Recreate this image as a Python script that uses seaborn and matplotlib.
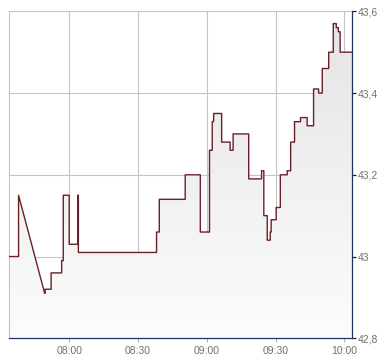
import numpy as np
import pandas as pd
import matplotlib
matplotlib.use("Agg")
import matplotlib.pyplot as plt
import matplotlib.dates as mdates
from matplotlib.ticker import FuncFormatter, FixedLocator
from matplotlib.patches import PathPatch
import seaborn as sns

# ---- data ----
day = "2024-01-02 "
times = ["07:33:36", "07:37:54", "07:49:18", "07:49:30", "07:52:06", "07:56:42",
         "07:57:24", "08:00:00", "08:03:42", "08:04:00", "08:38:06", "08:39:18",
         "08:50:36", "08:57:12", "09:01:12", "09:02:24", "09:03:00", "09:06:30",
         "09:10:12", "09:11:30", "09:18:18", "09:23:54", "09:24:54", "09:26:24",
         "09:27:42", "09:28:06", "09:30:18", "09:32:06", "09:35:06", "09:36:36",
         "09:38:18", "09:40:54", "09:43:48", "09:46:36", "09:48:48", "09:50:24",
         "09:53:12", "09:55:12", "09:56:30", "09:57:24", "09:58:12"]
prices = [43.00, 43.15, 42.91, 42.92, 42.96, 42.99,
          43.15, 43.03, 43.15, 43.01, 43.06, 43.14,
          43.20, 43.06, 43.26, 43.33, 43.35, 43.28,
          43.26, 43.30, 43.19, 43.21, 43.10, 43.04,
          43.06, 43.09, 43.12, 43.20, 43.21, 43.28,
          43.33, 43.34, 43.32, 43.41, 43.40, 43.46,
          43.50, 43.57, 43.56, 43.55, 43.50]
end_time = "10:03:30"
linear_from = ["07:37:54"]          # segment drawn as straight line (gap in data)
x_ticks = ["08:00", "08:30", "09:00", "09:30", "10:00"]
y_ticks = [42.8, 43.0, 43.2, 43.4, 43.6]

# ---- build step path ----
t = pd.to_datetime([day + s for s in times])
t_end = pd.to_datetime(day + end_time)
xs, ys = [], []
for i in range(len(t)):
    xs.append(t[i]); ys.append(prices[i])
    nxt = t[i + 1] if i + 1 < len(t) else t_end
    if times[i] in linear_from:
        continue
    xs.append(nxt); ys.append(prices[i])
df = pd.DataFrame({"time": pd.to_datetime(xs), "price": ys})

sns.set_theme(style="white")
plt.rcParams["font.family"] = ["Liberation Sans", "DejaVu Sans"]

fig = plt.figure(figsize=(3.9, 3.64), dpi=100)
ax = fig.add_axes([8.7 / 390, 1 - 338.3 / 364, (352.3 - 8.7) / 390, (338.3 - 11.3) / 364])
ax.set_facecolor("white")

ymin, ymax = y_ticks[0], y_ticks[-1]
x0, x1 = t[0], t_end

sns.lineplot(data=df, x="time", y="price", sort=False, estimator=None,
             color="#6b1f27", lw=1.0, ax=ax, zorder=4)

# gradient fill under the line
xn = mdates.date2num(df["time"].dt.to_pydatetime())
poly = ax.fill_between(xn, df["price"].values, ymin, color="none", lw=0)
path = poly.get_paths()[0]
patch = PathPatch(path, transform=ax.transData, facecolor="none", edgecolor="none")
ax.add_patch(patch)
grad = np.linspace(0, 1, 256).reshape(-1, 1)
cmap = matplotlib.colors.LinearSegmentedColormap.from_list("g", ["#e4e4e4", "#fcfcfc"])
im = ax.imshow(grad, cmap=cmap, aspect="auto", origin="upper",
               extent=[mdates.date2num(x0), mdates.date2num(x1), ymin, ymax], zorder=1)
im.set_clip_path(patch)

ax.set_xlim(x0, x1)
ax.set_ylim(ymin, ymax)

# axes styling
ax.xaxis.set_major_locator(FixedLocator(mdates.date2num(pd.to_datetime([day + s for s in x_ticks]))))
ax.xaxis.set_major_formatter(mdates.DateFormatter("%H:%M"))
ax.yaxis.set_major_locator(FixedLocator(y_ticks))
ax.yaxis.set_major_formatter(FuncFormatter(lambda v, p: ("%g" % round(v, 1)).replace(".", ",")))
ax.yaxis.tick_right()
ax.set_xlabel("")
ax.set_ylabel("")

ax.grid(True, color="#c4c4c4", lw=0.8, zorder=0)
ax.set_axisbelow(True)

for s in ["top"]:
    ax.spines[s].set_visible(False)
ax.spines["left"].set_color("#c4c4c4")
ax.spines["left"].set_linewidth(0.8)
for s in ["bottom", "right"]:
    ax.spines[s].set_color("#1c3560")
    ax.spines[s].set_linewidth(0.9)

ax.tick_params(axis="y", which="major", right=True, left=False, length=3, width=0.9,
               color="#222222", pad=1, labelsize=7.5, labelcolor="#707070")
ax.tick_params(axis="x", which="major", bottom=True, length=3, width=0.8,
               color="#b0b0b0", pad=2.5, labelsize=7.5, labelcolor="#707070")
ax.xaxis.get_major_ticks()[-1].tick1line.set_color("#222222")

fig.savefig("out.png", dpi=100)
